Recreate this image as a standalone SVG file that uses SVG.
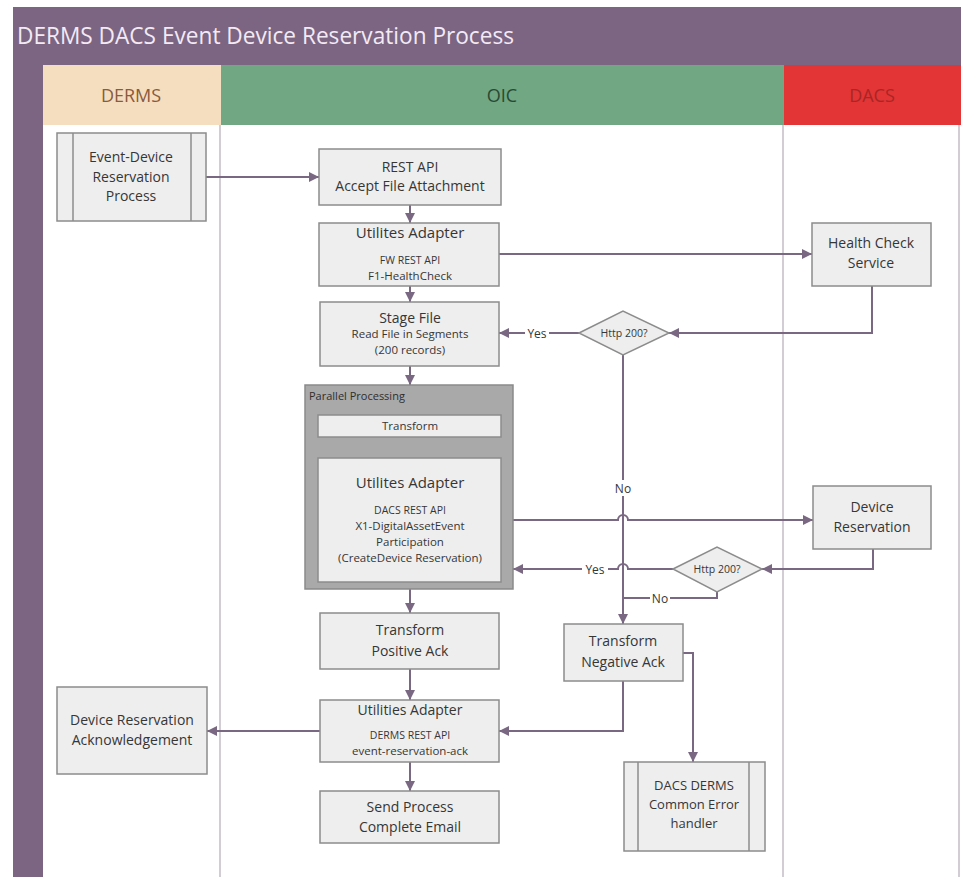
<svg xmlns="http://www.w3.org/2000/svg" width="961" height="877" viewBox="0 0 961 877">
<defs>
<marker id="arr" markerUnits="userSpaceOnUse" markerWidth="11" markerHeight="11" refX="10" refY="5" orient="auto">
<path d="M0,0 L10,5 L0,10 z" fill="#7a6882"/>
</marker>
</defs>
<style>
.box{fill:#eeeeee;stroke:#8c8c8c;stroke-width:1.5}
.pp{fill:#a9a9a9;stroke:#8a8a8a;stroke-width:1.5}
.lane{stroke:#d2cdd5;stroke-width:2;fill:none}
.t{font-family:"Open Sans","Liberation Sans",sans-serif;fill:#363636;text-anchor:middle}
.m{font-size:14px}
.m2{font-size:13px}
.h{font-size:15px}
.s{font-size:11.5px}
.xs{font-size:10.5px}
.c{stroke:#7a6882;stroke-width:2;fill:none}
.ca{stroke:#7a6882;stroke-width:2;fill:none;marker-end:url(#arr)}
.lbl{font-family:"Open Sans","Liberation Sans",sans-serif;font-size:12px;fill:#363636;text-anchor:middle}
.hdr{font-family:"Open Sans","Liberation Sans",sans-serif;font-size:18px;text-anchor:middle}
</style>
<rect x="0" y="0" width="961" height="877" fill="#ffffff"/>
<g id="frame">
<rect x="13" y="7" width="948" height="58" fill="#7c6483"/>
<rect x="13" y="65" width="30" height="812" fill="#7c6483"/>
<rect x="43" y="65" width="178" height="60" fill="#f5dec0"/>
<rect x="221" y="65" width="563" height="60" fill="#72a784"/>
<rect x="784" y="65" width="177" height="60" fill="#e33535"/>
<text x="17" y="44" font-family="Open Sans,Liberation Sans,sans-serif" font-size="24" fill="#f3eaf3" textLength="497" lengthAdjust="spacingAndGlyphs">DERMS DACS Event Device Reservation Process</text>
<text class="hdr" x="131" y="102" fill="#8b5a3c">DERMS</text>
<text class="hdr" x="502" y="102" fill="#284a32">OIC</text>
<text class="hdr" x="872" y="102" fill="#a82626">DACS</text>
<line class="lane" x1="220" y1="125" x2="220" y2="877"/>
<line class="lane" x1="783" y1="125" x2="783" y2="877"/>
<line class="lane" x1="959" y1="125" x2="959" y2="877"/>
</g>
<g id="connectors">
<path class="ca" d="M206,177 H319"/>
<path class="ca" d="M410,205 V223"/>
<path class="ca" d="M410,286 V302"/>
<path class="ca" d="M499,254 H812"/>
<path class="ca" d="M872,286 V333 H669"/>
<path class="ca" d="M579,333 H499"/>
<path class="ca" d="M623,355 V624"/>
<path class="ca" d="M410,366 V385"/>
<path class="ca" d="M410,437 V458"/>
<path class="ca" d="M501,520 H618 A5,5 0 0 1 628,520 H813"/>
<path class="ca" d="M873,549 V569 H762"/>
<path class="ca" d="M673,569 H628 A5,5 0 0 0 618,569 H513"/>
<path class="c" d="M717,592 V598 H623"/>
<path class="ca" d="M410,589 V613"/>
<path class="ca" d="M410,669 V700"/>
<path class="ca" d="M320,731 H207"/>
<path class="ca" d="M410,762 V791"/>
<path class="ca" d="M623,681 V731 H499"/>
<path class="ca" d="M683,653 H693 V762"/>
<rect x="525" y="325" width="24" height="16" fill="#ffffff"/>
<text class="lbl" x="537" y="338">Yes</text>
<rect x="613" y="480" width="20" height="16" fill="#ffffff"/>
<text class="lbl" x="623" y="493">No</text>
<rect x="582" y="561" width="26" height="16" fill="#ffffff"/>
<text class="lbl" x="595" y="574">Yes</text>
<rect x="650" y="590" width="20" height="16" fill="#ffffff"/>
<text class="lbl" x="660" y="603">No</text>
</g>
<g id="event-device">
<rect class="box" x="57" y="133" width="149" height="88"/>
<line x1="73" y1="133" x2="73" y2="221" stroke="#8c8c8c" stroke-width="1.5"/>
<line x1="191" y1="133" x2="191" y2="221" stroke="#8c8c8c" stroke-width="1.5"/>
<text class="t m" x="131" y="162">Event-Device</text>
<text class="t m" x="131" y="182">Reservation</text>
<text class="t m" x="131" y="201">Process</text>
</g>
<g id="rest-api">
<rect class="box" x="319" y="149" width="182" height="56"/>
<text class="t m" x="410" y="172">REST API</text>
<text class="t m" x="410" y="191">Accept File Attachment</text>
</g>
<g id="utilites-adapter-1">
<rect class="box" x="319" y="223" width="180" height="63"/>
<text class="t h" x="410" y="238">Utilites Adapter</text>
<text class="t xs" x="410" y="264">FW REST API</text>
<text class="t s" x="410" y="280">F1-HealthCheck</text>
</g>
<g id="health-check">
<rect class="box" x="812" y="223" width="119" height="63"/>
<text class="t m" x="871" y="248">Health Check</text>
<text class="t m" x="871" y="268">Service</text>
</g>
<g id="http200-1">
<polygon class="box" points="579,333 623,311 669,333 623,355"/>
<text class="t xs" x="624" y="337">Http 200?</text>
</g>
<g id="stage-file">
<rect class="box" x="320" y="302" width="179" height="64"/>
<text class="t m" x="410" y="323">Stage File</text>
<text class="t s" x="410" y="338">Read File in Segments</text>
<text class="t s" x="410" y="354">(200 records)</text>
</g>
<g id="parallel-processing">
<rect class="pp" x="305" y="385" width="208" height="204"/>
<text x="309" y="400" font-family="Open Sans,Liberation Sans,sans-serif" font-size="11" fill="#2e2e2e">Parallel Processing</text>
</g>
<g id="transform">
<rect class="box" x="318" y="415" width="183" height="22"/>
<text class="t s" x="410" y="430">Transform</text>
</g>
<g id="utilites-adapter-2">
<rect class="box" x="318" y="458" width="183" height="124"/>
<text class="t h" x="410" y="488">Utilites Adapter</text>
<text class="t xs" x="410" y="514">DACS REST API</text>
<text class="t s" x="410" y="530">X1-DigitalAssetEvent</text>
<text class="t s" x="410" y="546">Participation</text>
<text class="t s" x="410" y="562">(CreateDevice Reservation)</text>
</g>
<g id="device-reservation">
<rect class="box" x="813" y="486" width="118" height="63"/>
<text class="t m" x="872" y="512">Device</text>
<text class="t m" x="872" y="532">Reservation</text>
</g>
<g id="http200-2">
<polygon class="box" points="673,569 717,547 762,569 717,592"/>
<text class="t xs" x="717" y="573">Http 200?</text>
</g>
<g id="transform-positive-ack">
<rect class="box" x="320" y="613" width="179" height="56"/>
<text class="t m" x="410" y="635">Transform</text>
<text class="t m" x="410" y="656">Positive Ack</text>
</g>
<g id="transform-negative-ack">
<rect class="box" x="564" y="624" width="119" height="57"/>
<text class="t m" x="623" y="646">Transform</text>
<text class="t m" x="623" y="667">Negative Ack</text>
</g>
<g id="utilities-adapter-3">
<rect class="box" x="320" y="700" width="179" height="62"/>
<text class="t m" x="410" y="715">Utilities Adapter</text>
<text class="t xs" x="410" y="739">DERMS REST API</text>
<text class="t s" x="410" y="755">event-reservation-ack</text>
</g>
<g id="device-reservation-ack">
<rect class="box" x="57" y="687" width="150" height="87"/>
<text class="t m" x="132" y="725">Device Reservation</text>
<text class="t m" x="132" y="745">Acknowledgement</text>
</g>
<g id="send-email">
<rect class="box" x="320" y="791" width="179" height="52"/>
<text class="t m" x="410" y="812">Send Process</text>
<text class="t m" x="410" y="832">Complete Email</text>
</g>
<g id="dacs-derms-error">
<rect class="box" x="624" y="762" width="141" height="89"/>
<line x1="638" y1="762" x2="638" y2="851" stroke="#8c8c8c" stroke-width="1.5"/>
<line x1="749" y1="762" x2="749" y2="851" stroke="#8c8c8c" stroke-width="1.5"/>
<text class="t m2" x="694" y="790">DACS DERMS</text>
<text class="t m2" x="694" y="809">Common Error</text>
<text class="t m2" x="694" y="828">handler</text>
</g>
</svg>
